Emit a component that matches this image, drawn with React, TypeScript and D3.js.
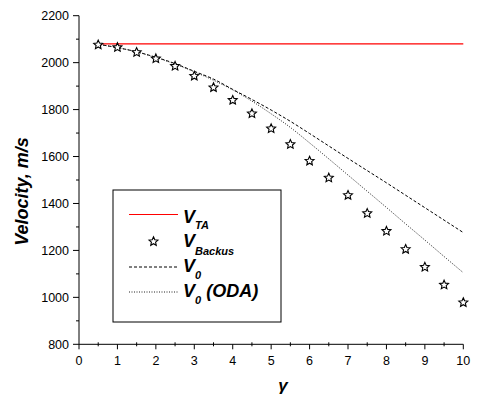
import React from "react";
import * as d3 from "d3";

const gammaValues = [0.5, 1, 1.5, 2, 2.5, 3, 3.5, 4, 4.5, 5, 5.5, 6, 6.5, 7, 7.5, 8, 8.5, 9, 9.5, 10];
const vTA = [2080, 2080, 2080, 2080, 2080, 2080, 2080, 2080, 2080, 2080, 2080, 2080, 2080, 2080, 2080, 2080, 2080, 2080, 2080, 2080];
const vBackus = [2076, 2065, 2044, 2017, 1985, 1943, 1894, 1840, 1783, 1719, 1652, 1581, 1509, 1435, 1358, 1282, 1205, 1129, 1053, 978];
const v0 = [2078, 2064, 2046, 2023, 1996, 1963, 1930, 1886, 1843, 1798, 1750, 1698, 1645, 1592, 1540, 1488, 1435, 1382, 1329, 1276];
const v0ODA = [2078, 2064, 2046, 2022, 1994, 1961, 1925, 1884, 1836, 1782, 1724, 1658, 1590, 1521, 1452, 1383, 1313, 1244, 1174, 1105];

const xTicks = [0, 1, 2, 3, 4, 5, 6, 7, 8, 9, 10];
const yTicks = [800, 1000, 1200, 1400, 1600, 1800, 2000, 2200];

const W = 477;
const H = 399;

function starPath(cx: number, cy: number, R: number, r: number): string {
  const pts: [number, number][] = [];
  for (let i = 0; i < 10; i++) {
    const a = -Math.PI / 2 + (i * Math.PI) / 5;
    const rad = i % 2 === 0 ? R : r;
    pts.push([cx + rad * Math.cos(a), cy + rad * Math.sin(a)]);
  }
  return "M" + pts.map((p) => p[0].toFixed(2) + "," + p[1].toFixed(2)).join("L") + "Z";
}

export default function App() {
  const x = d3.scaleLinear().domain([0, 10]).range([79, 463.3]);
  const y = d3.scaleLinear().domain([800, 2200]).range([344.3, 15.7]);
  const font = "Arial, 'Liberation Sans', sans-serif";

  const line = d3
    .line<[number, number]>()
    .x((d) => x(d[0]))
    .y((d) => y(d[1]))
    .curve(d3.curveMonotoneX);

  const zip = (vals: number[]) => gammaValues.map((g, i) => [g, vals[i]] as [number, number]);

  const xMinor = d3.range(0, 10.01, 0.5).filter((v) => Math.abs(v - Math.round(v)) > 0.01);
  const yMinor = d3.range(800, 2201, 100).filter((v) => v % 200 !== 0);

  const legendX0 = 129;
  const legendX1 = 178;
  const textX = 183;
  const rows = [222.5, 246.5, 272, 296.5];

  return (
    <svg
      width={W}
      height={H}
      style={{ position: "absolute", left: 0, top: 0, background: "#fff" }}
      fontFamily={font}
    >
      <rect x={0} y={0} width={W} height={H} fill="#fff" />
      {/* data lines */}
      <path d={line(zip(vTA)) || ""} fill="none" stroke="#ff0000" strokeWidth={1.2} />
      <path d={line(zip(v0)) || ""} fill="none" stroke="#000" strokeWidth={1} strokeDasharray="3,2" />
      <path d={line(zip(v0ODA)) || ""} fill="none" stroke="#222" strokeWidth={1} strokeDasharray="1,1.5" />
      {gammaValues.map((g, i) => (
        <path key={"s" + i} d={starPath(x(g), y(vBackus[i]), 4.7, 2.2)} fill="#fff" stroke="#000" strokeWidth={1.1} />
      ))}

      {/* axes */}
      <line x1={x(0)} x2={x(10)} y1={y(800)} y2={y(800)} stroke="#000" strokeWidth={1} />
      <line x1={x(0)} x2={x(0)} y1={y(800)} y2={y(2200)} stroke="#000" strokeWidth={1} />
      {xTicks.map((t) => (
        <g key={"xt" + t}>
          <line x1={x(t)} x2={x(t)} y1={y(800)} y2={y(800) + 5} stroke="#000" />
          <text x={x(t)} y={y(800) + 21} fontSize={12.5} textAnchor="middle" fill="#000">
            {t}
          </text>
        </g>
      ))}
      {xMinor.map((t) => (
        <line key={"xm" + t} x1={x(t)} x2={x(t)} y1={y(800) - 2} y2={y(800) + 2} stroke="#000" />
      ))}
      {yTicks.map((t) => (
        <g key={"yt" + t}>
          <line x1={x(0) - 6} x2={x(0)} y1={y(t)} y2={y(t)} stroke="#000" />
          <text x={x(0) - 10} y={y(t) + 4.5} fontSize={12.5} textAnchor="end" fill="#000">
            {t}
          </text>
        </g>
      ))}
      {yMinor.map((t) => (
        <line key={"ym" + t} x1={x(0) - 3} x2={x(0)} y1={y(t)} y2={y(t)} stroke="#000" />
      ))}

      {/* axis titles */}
      <text
        transform="translate(27.5,191.5) rotate(-90)"
        textAnchor="middle"
        fontSize={18}
        fontWeight="bold"
        fontStyle="italic"
        fill="#000"
      >
        Velocity, m/s
      </text>
      <text x={283} y={391} textAnchor="middle" fontSize={17} fontWeight="bold" fontStyle="italic" fill="#000">
        γ
      </text>

      {/* legend */}
      <rect x={113} y={190} width={168} height={132} fill="#fff" stroke="#000" strokeWidth={1} />
      <line x1={legendX0} x2={legendX1} y1={rows[0] - 8} y2={rows[0] - 8} stroke="#ff0000" strokeWidth={1.2} />
      <path d={starPath((legendX0 + legendX1) / 2, rows[1] - 5, 4.7, 2.2)} fill="#fff" stroke="#000" strokeWidth={1.1} />
      <line x1={legendX0} x2={legendX1} y1={rows[2] - 5} y2={rows[2] - 5} stroke="#000" strokeDasharray="3,2" />
      <line x1={legendX0} x2={legendX1} y1={rows[3] - 4.5} y2={rows[3] - 4.5} stroke="#222" strokeDasharray="1,1.5" />
      <g fontWeight="bold" fontStyle="italic" fill="#000">
        <text x={textX} y={rows[0]} fontSize={18}>
          V<tspan fontSize={11} dy={6.5}>TA</tspan>
        </text>
        <text x={textX} y={rows[1]} fontSize={18}>
          V<tspan fontSize={11} dy={8}>Backus</tspan>
        </text>
        <text x={textX} y={rows[2]} fontSize={18}>
          V<tspan fontSize={11} dy={7}>0</tspan>
        </text>
        <text x={textX} y={rows[3]} fontSize={18}>
          V<tspan fontSize={11} dy={7}>0</tspan>
          <tspan dy={-7}> (ODA)</tspan>
        </text>
      </g>
    </svg>
  );
}
